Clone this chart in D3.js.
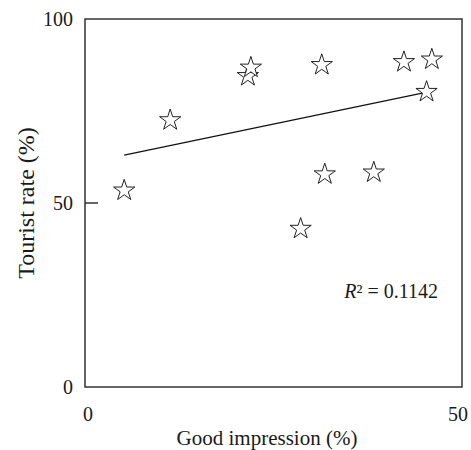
<!DOCTYPE html>
<html lang="en">
  <head>
    <meta charset="utf-8">
    <title>Good impression vs tourist rate</title>
    <script src="https://cdn.jsdelivr.net/npm/d3@7"></script>
  </head>

  <style type="text/css">
  body {
    margin: 0;
    background-color: #ffffff;
  }
  .tick_label {
    font-family: "Liberation Serif", serif;
    font-size: 20px;
    fill: #1a1a1a;
  }
  .axis_title {
    font-family: "Liberation Serif", serif;
    font-size: 21px;
    fill: #1a1a1a;
    text-anchor: middle;
  }
  .star {
    fill: #ffffff;
    stroke: #222222;
    stroke-width: 1;
  }
  </style>
  <body>
    <script type="text/javascript">
    // values
    var goodImpression = [5.2, 11.3, 21.6, 22.0, 31.4, 28.6, 31.8, 38.3, 42.3, 46.0, 45.3];
    var touristRate    = [53.4, 72.5, 84.5, 86.8, 87.5, 43.0, 57.8, 58.3, 88.3, 89.0, 80.2];
    var xTicks = [0, 50];
    var yTicks = [0, 50, 100];
    // trend line as shown (intercept, slope) and its R²
    var fitIntercept = 60.8;
    var fitSlope = 0.426;
    var rSquared = "0.1142";

    var svgWidth = 471;
    var svgHeight = 450;
    var plotLeft = 85, plotRight = 462, plotTop = 19, plotBottom = 387;

    var x = d3.scaleLinear().domain([0, 50]).range([plotLeft, plotRight]);
    var y = d3.scaleLinear().domain([0, 100]).range([plotBottom, plotTop]);

    var svg = d3.select("body")
      .append("svg")
      .attr("width", svgWidth)
      .attr("height", svgHeight);

    // frame
    svg.append("rect")
      .attr("x", plotLeft)
      .attr("y", plotTop)
      .attr("width", plotRight - plotLeft)
      .attr("height", plotBottom - plotTop)
      .attr("fill", "none")
      .attr("stroke", "#333333")
      .attr("stroke-width", 1.5);

    // inner tick marks on y (only the middle one shows)
    svg.selectAll(".ytick")
      .data(yTicks.filter(function(d) { return d > 0 && d < 100; }))
      .enter()
      .append("line")
      .attr("x1", plotLeft)
      .attr("x2", plotLeft + 13)
      .attr("y1", function(d) { return y(d); })
      .attr("y2", function(d) { return y(d); })
      .attr("stroke", "#333333")
      .attr("stroke-width", 1.5);

    svg.selectAll(".ylabel")
      .data(yTicks)
      .enter()
      .append("text")
      .attr("class", "tick_label")
      .attr("x", plotLeft - 12)
      .attr("y", function(d) { return y(d); })
      .attr("dy", "0.35em")
      .attr("text-anchor", "end")
      .text(function(d) { return d; });

    svg.selectAll(".xlabel")
      .data(xTicks)
      .enter()
      .append("text")
      .attr("class", "tick_label")
      .attr("x", function(d, i) { return x(d) + (i == 0 ? 3 : -4); })
      .attr("y", plotBottom + 27)
      .attr("dy", "0.35em")
      .attr("text-anchor", "middle")
      .text(function(d) { return d; });

    // axis titles
    svg.append("text")
      .attr("class", "axis_title")
      .attr("x", 267)
      .attr("y", 438)
      .attr("dy", "0.35em")
      .text("Good impression (%)");

    svg.append("text")
      .attr("class", "axis_title")
      .attr("transform", "translate(26," + 203 + ") rotate(-90)")
      .attr("dy", "0.35em")
      .style("font-size", "24px")
      .text("Tourist rate (%)");

    // trend line over the range of the data
    var xMin = d3.min(goodImpression), xMax = d3.max(goodImpression);
    svg.append("line")
      .attr("x1", x(xMin))
      .attr("y1", y(fitIntercept + fitSlope * xMin))
      .attr("x2", x(xMax))
      .attr("y2", y(fitIntercept + fitSlope * xMax))
      .attr("stroke", "#111111")
      .attr("stroke-width", 1.2);

    // stars
    var star = d3.symbol().type(d3.symbolStar).size(140);
    svg.selectAll(".star")
      .data(goodImpression)
      .enter()
      .append("path")
      .attr("class", "star")
      .attr("d", star)
      .attr("transform", function(d, i) {
        return "translate(" + x(d) + "," + y(touristRate[i]) + ")";
      });

    // R² note
    var note = svg.append("text")
      .attr("class", "tick_label")
      .attr("x", 438)
      .attr("y", 291)
      .attr("dy", "0.35em")
      .attr("text-anchor", "end");
    note.append("tspan").attr("font-style", "italic").text("R");
    note.append("tspan").text("² = " + rSquared);
    </script>
  </body>
</html>
